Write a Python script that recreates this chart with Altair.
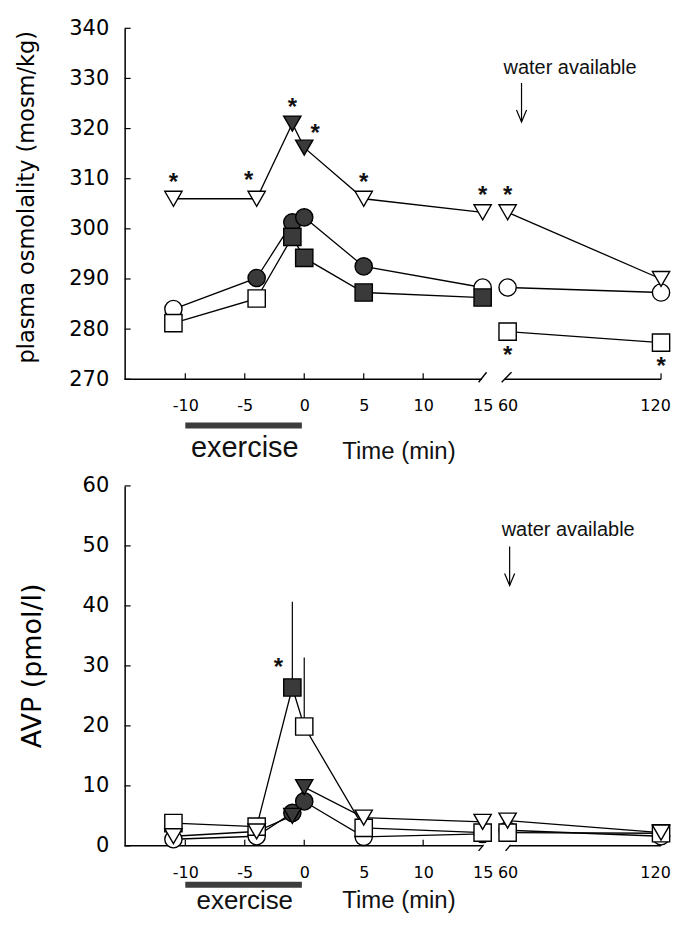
import altair as alt
import pandas as pd

# ---------------- data ----------------
times = [-11, -4, -1, 0, 5, 15, 60, 120]

osm_triangle = [306.0, 306.0, 321.0, 316.2, 306.0, 303.3, 303.3, 290.0]
osm_triangle_filled = [0, 0, 1, 1, 0, 0, 0, 0]
osm_circle = [284.0, 290.2, 301.3, 302.3, 292.5, 288.3, 288.3, 287.3]
osm_circle_filled = [0, 1, 1, 1, 1, 0, 0, 0]
osm_square = [281.2, 286.1, 298.4, 294.2, 287.3, 286.3, 279.5, 277.3]
osm_square_filled = [0, 0, 1, 1, 1, 1, 0, 0]

avp_triangle = [1.6, 2.4, 5.0, 9.8, 4.7, 4.0, 4.2, 2.2]
avp_triangle_filled = [0, 0, 1, 1, 0, 0, 0, 0]
avp_circle = [1.1, 1.6, 5.5, 7.4, 1.5, 2.0, 2.6, 1.6]
avp_circle_filled = [0, 0, 1, 1, 0, 0, 0, 0]
avp_square = [3.8, 3.2, 26.4, 19.9, 3.0, 2.2, 2.2, 2.1]
avp_square_filled = [0, 0, 1, 0, 0, 0, 0, 0]

avp_err_time = [-1, 0]
avp_err_upper = [40.7, 31.4]

osm_star_series = ["triangle"] * 7 + ["square", "square"]
osm_star_time = [-11, -4, -1, 0, 5, 15, 60, 60, 120]
osm_star_side = ["above", "aboveLeft", "above", "aboveRight", "above", "above", "above", "below", "below"]

avp_star_series = ["square"]
avp_star_time = [-1]
avp_star_side = ["upLeft"]

osm_y_ticks = [270, 280, 290, 300, 310, 320, 330, 340]
avp_y_ticks = [0, 10, 20, 30, 40, 50, 60]
x_label_times = [-10, -5, 0, 5, 10, 15, 60, 120]
x_tick_times = [-10, -5, 0, 5, 10, 120]

exercise_period = [-10, -0.2]
water_time_top = 18.27      # arrow position on the broken axis
water_time_bottom = 17.27

# ---------------- layout helpers ----------------
AXIS_POS = {60: 17.1, 120: 30.0}     # broken time axis: 60 and 120 min squeezed in
X_DOMAIN = [-15.1, 30.0]
W = 538
AXIS_FONT = "DejaVu Sans"
TEXT_FONT = "Liberation Sans"
DARK = "#3a3a3a"
SERIES = ["circle", "square", "triangle"]
ONE = pd.DataFrame({"one": [0]})


def to_pos(t):
    return AXIS_POS.get(t, float(t))


def make_long(vals, fills):
    rows = []
    for rank, name in enumerate(SERIES):
        for t, v, f in zip(times, vals[name], fills[name]):
            rows.append({"series": name, "rank": rank, "time": t, "pos": to_pos(t),
                         "value": v, "fillc": DARK if f else "white",
                         "key": name + ("_late" if t >= 60 else "_early")})
    return pd.DataFrame(rows)


label_expr = ("datum.value == 17.1 ? '60' : datum.value == 30 ? '120' : '' + datum.value")


def panel(df, H, ydom, yticks, ytitle, ytitle_size, ytitle_pad, ytitle_y, xlab_pad,
          star_df, offsets, err_df, water_y, water_x, arrow_y, arrow_x,
          axis_segs, slashes, bar_off, ex_off, ex_size, time_off):
    xs = alt.Scale(domain=X_DOMAIN, nice=False, zero=False)
    ys = alt.Scale(domain=ydom, nice=False, zero=False)
    xaxis = alt.Axis(values=[to_pos(t) for t in x_label_times], labelExpr=label_expr,
                     domain=False, ticks=False, tickSize=0, grid=False,
                     labelPadding=xlab_pad, labelFont=AXIS_FONT, labelFontSize=16,
                     labelOffset={"condition": {"test": "datum.value == 30", "value": -6},
                                  "value": 0},
                     labelColor="black", labelFlush=False, labelOverlap=False, title=None)
    yaxis = alt.Axis(values=yticks, domain=True, domainColor="black", domainWidth=1.5,
                     ticks=False, tickSize=0, grid=False, labelPadding=16,
                     labelFont=AXIS_FONT, labelFontSize=21, labelColor="black",
                     title=ytitle, titleFont=AXIS_FONT, titleFontSize=ytitle_size,
                     titleFontWeight="normal", titleColor="black", titleY=ytitle_y,
                     titlePadding=ytitle_pad, minExtent=60, maxExtent=60)
    base = alt.Chart(df)
    X = alt.X("pos:Q", scale=xs, axis=xaxis)
    Y = alt.Y("value:Q", scale=ys, axis=yaxis)

    lines = base.mark_line(color="black", strokeWidth=1.3).encode(
        x=X, y=Y, detail="key:N", order="pos:Q")

    seg_df = pd.DataFrame(axis_segs, columns=["x0", "x1"])
    xline = alt.Chart(seg_df).mark_rule(color="black", strokeWidth=1.5).encode(
        x="x0:Q", x2="x1:Q", y=alt.datum(ydom[0]))

    sl_df = pd.DataFrame(slashes, columns=["x0", "x1"])
    sl = alt.Chart(sl_df).mark_rule(color="black", strokeWidth=1.4).encode(
        x="x0:Q", x2="x1:Q", y=alt.value(H + offsets["slash"][0]),
        y2=alt.value(H + offsets["slash"][1]))

    yt = alt.Chart(pd.DataFrame({"v": yticks})).mark_rule(color="black", strokeWidth=1.2).encode(
        y="v:Q", x=alt.value(0), x2=alt.value(6))
    xt = alt.Chart(pd.DataFrame({"p": [to_pos(t) for t in x_tick_times]})).mark_rule(
        color="black", strokeWidth=1.2).encode(x="p:Q", y=alt.value(H), y2=alt.value(H - 6))

    layers = [lines, xline, sl, yt, xt]

    if err_df is not None:
        layers.append(alt.Chart(err_df).mark_rule(color="black", strokeWidth=1.2).encode(
            x="pos:Q", y="value:Q", y2="upper:Q"))

    pts = base.mark_point(filled=True, stroke="black", strokeWidth=1.4, opacity=1).encode(
        x="pos:Q", y="value:Q",
        shape=alt.Shape("series:N", scale=alt.Scale(domain=SERIES,
                        range=["circle", "square", "triangle-down"]), legend=None),
        size=alt.Size("series:N", scale=alt.Scale(domain=SERIES, range=[300, 300, 270]),
                      legend=None),
        fill=alt.Fill("fillc:N", scale=None),
        order=alt.Order("rank:Q"))
    layers.append(pts)

    for side, (dx, dy) in offsets["stars"].items():
        sd = star_df[star_df["side"] == side]
        if len(sd) == 0:
            continue
        layers.append(alt.Chart(sd).mark_text(text="*", font=TEXT_FONT, fontSize=24,
                                              fontWeight="bold", dx=dx, dy=dy,
                                              baseline="alphabetic", color="#111").encode(
            x="pos:Q", y="value:Q"))

    # exercise bar and labels
    ann = alt.Chart(ONE)
    layers.append(ann.mark_rule(color="#3c3c3c", strokeWidth=6).encode(
        x=alt.datum(exercise_period[0]), x2=alt.datum(exercise_period[1]),
        y=alt.value(H + bar_off)))
    layers.append(ann.mark_text(text="exercise", font=TEXT_FONT, fontSize=ex_size,
                                align="center", baseline="alphabetic",
                                color="#111").encode(
        x=alt.datum(-5.0), y=alt.value(H + ex_off)))
    layers.append(ann.mark_text(text="Time (min)", font=TEXT_FONT, fontSize=24,
                                align="left", baseline="alphabetic",
                                color="#111").encode(
        x=alt.datum(3.2), y=alt.value(H + time_off)))
    # water available
    layers.append(ann.mark_text(text="water available", font=TEXT_FONT,
                                fontSize=20, align="left", baseline="alphabetic",
                                color="#111").encode(
        x=alt.datum(water_x), y=alt.datum(water_y)))
    layers.append(ann.mark_rule(color="black", strokeWidth=1.2).encode(
        x=alt.datum(arrow_x), y=alt.datum(arrow_y[0]), y2=alt.datum(arrow_y[1])))
    layers.append(ann.mark_point(shape="M-0.42,-1L0,0L0.42,-1", size=576,
                                 filled=False, color="black", strokeWidth=1.2,
                                 opacity=1).encode(
        x=alt.datum(arrow_x), y=alt.datum(arrow_y[1])))

    return alt.layer(*layers).properties(width=W, height=H)


def stars(df, series, tlist, sides):
    rows = []
    for s, t, side in zip(series, tlist, sides):
        v = df[(df["series"] == s) & (df["time"] == t)]["value"].iloc[0]
        rows.append({"pos": to_pos(t), "value": v, "side": side})
    return pd.DataFrame(rows)


osm_df = make_long({"triangle": osm_triangle, "circle": osm_circle, "square": osm_square},
                   {"triangle": osm_triangle_filled, "circle": osm_circle_filled,
                    "square": osm_square_filled})
avp_df = make_long({"triangle": avp_triangle, "circle": avp_circle, "square": avp_square},
                   {"triangle": avp_triangle_filled, "circle": avp_circle_filled,
                    "square": avp_square_filled})

avp_err = pd.DataFrame({"pos": [to_pos(t) for t in avp_err_time],
                        "value": [avp_df[(avp_df.series == "square") & (avp_df.time == t)]["value"].iloc[0]
                                  for t in avp_err_time],
                        "upper": avp_err_upper})

top = panel(
    osm_df, 352, [270, 340], osm_y_ticks, "plasma osmolality (mosm/kg)", 22.5, 26, 169, 18,
    stars(osm_df, osm_star_series, osm_star_time, osm_star_side),
    {"stars": {"above": (0, -9), "aboveLeft": (-8, -11), "aboveRight": (11, -7),
               "below": (0, 31)},
     "slash": (3, -7)},
    None, 330.85, 16.76, (329.1, 321.3), water_time_top,
    [(-15.1, 14.95), (16.85, 30.0)], [(14.66, 15.33), (16.6, 17.43)],
    46.5, 78, 29, 80)

bottom = panel(
    avp_df, 361, [0, 60], avp_y_ticks, "AVP (pmol/l)", 27, 18, 180, 19,
    stars(avp_df, avp_star_series, avp_star_time, avp_star_side),
    {"stars": {"upLeft": (-14, -13)}, "slash": (5, -1)},
    avp_err, 51.6, 16.6, (49.9, 43.4), water_time_bottom,
    [(-15.1, 15.0), (17.3, 30.0)], [(14.66, 15.08), (16.93, 17.35)],
    39, 63, 26, 62)

chart = alt.vconcat(top, bottom, spacing=107, bounds="flush").properties(
    padding={"left": 8, "top": 8, "right": 0, "bottom": 0},
    background="white",
).configure_view(stroke=None)

chart.save("out.html", embed_options={"renderer": "svg", "actions": False})
